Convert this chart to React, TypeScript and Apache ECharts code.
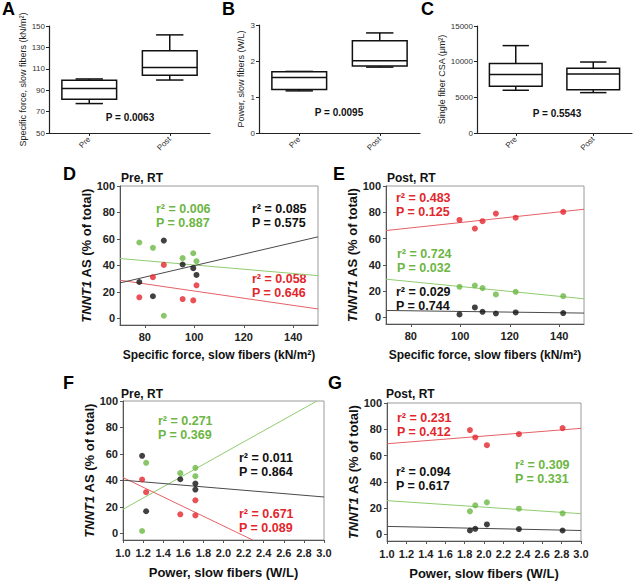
import { useEffect, useRef } from 'react';
import * as echarts from 'echarts';

// ---------- data ----------
const boxCategories = ['Pre', 'Post'];
// [min, Q1, median, Q3, max]
const forceBox = [
  [77.5, 81.6, 91.5, 99.2, 100.5],
  [99.5, 103.9, 111.3, 126.8, 141.7],
];
const powerBox = [
  [1.17, 1.21, 1.54, 1.7, 1.71],
  [1.83, 1.86, 2.01, 2.56, 2.78],
];
const csaBox = [
  [5990, 6550, 8190, 9730, 12250],
  [5660, 6080, 8270, 9070, 9950],
];
const boxPValues = ['P = 0.0063', 'P = 0.0095', 'P = 0.5543'];
const forceTicks = [50, 70, 90, 110, 130, 150];
const powerTicks = [0, 1, 2, 3];
const csaTicks = [0, 5000, 10000, 15000];

const pctTicks = [0, 20, 40, 60, 80, 100];
const forceScatterTicks = [80, 100, 120, 140];

// Panel D: Pre, specific force
const preForce = [77.8, 83.3, 87.7, 95.3, 99.6, 100.9];
const dGreen = [57.3, 53.3, 2, 45.5, 49.2, 43.2];
const dBlack = [27.5, 16.7, 58.8, 40.7, 37.9, 32.8];
const dRed = [15.9, 31.1, 40.4, 14.6, 13.6, 25];
const dGreenFit = [[70, 45.2], [150, 32.3]];
const dBlackFit = [[70, 26.8], [150, 61.6]];
const dRedFit = [[70, 28.8], [150, 7.1]];

// Panel E: Post, specific force
const postForce = [99.7, 105.9, 109, 114.4, 122.4, 141.6];
const eRed = [74.2, 67.6, 73.2, 79, 75.9, 80.3];
const eGreen = [23.3, 24.3, 22.3, 17.5, 19.5, 16.2];
const eBlack = [2.3, 7.6, 4.3, 3, 3.8, 3.3];
const eRedFit = [[70, 66.1], [150, 82.3]];
const eGreenFit = [[70, 29.1], [150, 14.2]];
const eBlackFit = [[70, 5.3], [150, 3.3]];

// Panel F: Pre, power
const prePower = [1.19, 1.23, 1.57, 1.72, 1.72];
const fGreen = [1.8, 53.3, 45.5, 49.5, 43.2];
const fBlack = [58.6, 16.7, 40.9, 37.6, 33.1];
const fRed = [40.7, 31.1, 14.4, 25, 13.6];
const fGreenFit = [[1.0, 18.2], [2.93, 100]];
const fBlackFit = [[1.0, 40.2], [3.0, 27.5]];
const fRedFit = [[1.0, 42.2], [2.29, -5]];

// Panel G: Post, power
const postPower = [1.855, 1.91, 2.03, 2.36, 2.81];
const gRed = [79.4, 73.8, 67.9, 76.3, 80.9];
const gGreen = [17.6, 22.1, 24.4, 19.6, 16];
const gBlack = [3, 4.3, 7.6, 4.1, 3];
const gRedFit = [[1.0, 69], [3.0, 80.7]];
const gGreenFit = [[1.0, 25.7], [3.0, 15.8]];
const gBlackFit = [[1.0, 6.1], [3.0, 3]];

// stats text: [r², P]
const dStats = { green: ['0.006', '0.887'], black: ['0.085', '0.575'], red: ['0.058', '0.646'] };
const eStats = { red: ['0.483', '0.125'], green: ['0.724', '0.032'], black: ['0.029', '0.744'] };
const fStats = { green: ['0.271', '0.369'], black: ['0.011', '0.864'], red: ['0.671', '0.089'] };
const gStats = { red: ['0.231', '0.412'], black: ['0.094', '0.617'], green: ['0.309', '0.331'] };

// ---------- style ----------
const FONT = '"Liberation Sans", Arial, Helvetica, sans-serif';
const RED = '#e3262d';
const GREEN = '#6cb644';
const BLACK = '#111111';
const RED_LINE = '#e46166';
const GREEN_LINE = '#90cc70';
const BLACK_LINE = '#4a4a4a';

const grids = [
  { left: 49, top: 26, width: 161, height: 107 },   // A
  { left: 259, top: 25, width: 161, height: 108 },  // B
  { left: 477, top: 26, width: 155, height: 107 },  // C
  { left: 120, top: 186, width: 198, height: 139 }, // D
  { left: 386, top: 186, width: 198, height: 138 }, // E
  { left: 123, top: 401, width: 201, height: 139 }, // F
  { left: 387, top: 403, width: 194, height: 138 }, // G
];

function catAxis(gi: number) {
  return {
    type: 'category', gridIndex: gi, data: boxCategories, boundaryGap: true,
    axisLine: { lineStyle: { color: '#222', width: 1.2 } },
    axisTick: { show: true, alignWithLabel: true, length: 3, lineStyle: { color: '#222' } },
    axisLabel: { rotate: 45, fontSize: 8, color: '#333', margin: 5, fontFamily: FONT },
    splitLine: { show: false },
  };
}

function boxYAxis(gi: number, min: number, max: number, values: number[], name: string, gap: number) {
  return {
    type: 'value', gridIndex: gi, min, max, name, nameLocation: 'middle', nameGap: gap,
    nameTextStyle: { fontSize: 9, color: '#222', fontFamily: FONT },
    axisLine: { show: true, lineStyle: { color: '#222', width: 1.2 } },
    axisTick: { show: true, length: 3, customValues: values, lineStyle: { color: '#222' } },
    axisLabel: {
      fontSize: 8, color: '#333', margin: 4, customValues: values, fontFamily: FONT,
      formatter: (v: number) => String(v),
    },
    splitLine: { show: false },
  };
}

function pctAxis(gi: number, gap: number) {
  return {
    type: 'value', gridIndex: gi, min: -5, max: 100,
    name: '{i|TNNT1} AS (% of total)', nameLocation: 'middle', nameGap: gap,
    nameTextStyle: {
      fontSize: 13, fontWeight: 'bold', color: '#111', fontFamily: FONT,
      rich: { i: { fontSize: 13, fontWeight: 'bold', fontStyle: 'italic', color: '#111', fontFamily: FONT } },
    },
    axisLine: { show: true, lineStyle: { color: '#555', width: 1 } },
    axisTick: { show: true, length: 3, customValues: pctTicks, lineStyle: { color: '#555' } },
    axisLabel: { fontSize: 11, fontWeight: 'bold', color: '#222', margin: 5, customValues: pctTicks, fontFamily: FONT },
    splitLine: { show: false },
  };
}

function forceXAxis(gi: number, gap: number) {
  return {
    type: 'value', gridIndex: gi, min: 70, max: 150,
    name: 'Specific force, slow fibers (kN/m²)', nameLocation: 'middle', nameGap: gap,
    nameTextStyle: { fontSize: 12, fontWeight: 'bold', color: '#111', fontFamily: FONT },
    axisLine: { show: true, onZero: false, lineStyle: { color: '#555', width: 1 } },
    axisTick: { show: true, length: 3, customValues: forceScatterTicks, lineStyle: { color: '#555' } },
    axisLabel: { fontSize: 11, fontWeight: 'bold', color: '#222', margin: 6, customValues: forceScatterTicks, fontFamily: FONT },
    splitLine: { show: false },
  };
}

function powerXAxis(gi: number, gap: number) {
  return {
    type: 'value', gridIndex: gi, min: 1, max: 3, interval: 0.2,
    name: 'Power, slow fibers (W/L)', nameLocation: 'middle', nameGap: gap,
    nameTextStyle: { fontSize: 13, fontWeight: 'bold', color: '#111', fontFamily: FONT },
    axisLine: { show: true, onZero: false, lineStyle: { color: '#555', width: 1 } },
    axisTick: { show: true, length: 3, lineStyle: { color: '#555' } },
    axisLabel: {
      fontSize: 11, fontWeight: 'bold', color: '#222', margin: 7, fontFamily: FONT,
      formatter: (v: number) => v.toFixed(1),
    },
    splitLine: { show: false },
  };
}

function boxSeries(gi: number, data: number[][]) {
  return {
    type: 'custom', xAxisIndex: gi, yAxisIndex: gi,
    data: data.map((d, i) => [i, ...d]),
    renderItem: (params: any, api: any) => {
      const i = api.value(0);
      const v = [1, 2, 3, 4, 5].map((k) => api.value(k));
      const band = api.size([1, 0])[0];
      const bw = band * 0.68;
      const cw = bw / 2;
      const cx = api.coord([i, v[0]])[0];
      const y = v.map((val: number) => api.coord([i, val])[1]);
      const st = { stroke: '#111', lineWidth: 1.5, fill: 'none' };
      return {
        type: 'group',
        children: [
          { type: 'line', shape: { x1: cx, y1: y[3], x2: cx, y2: y[4] }, style: st },
          { type: 'line', shape: { x1: cx, y1: y[1], x2: cx, y2: y[0] }, style: st },
          { type: 'line', shape: { x1: cx - cw / 2, y1: y[4], x2: cx + cw / 2, y2: y[4] }, style: st },
          { type: 'line', shape: { x1: cx - cw / 2, y1: y[0], x2: cx + cw / 2, y2: y[0] }, style: st },
          { type: 'rect', shape: { x: cx - bw / 2, y: y[3], width: bw, height: y[1] - y[3] }, style: { stroke: '#111', lineWidth: 1.5, fill: '#fff' } },
          { type: 'line', shape: { x1: cx - bw / 2, y1: y[2], x2: cx + bw / 2, y2: y[2] }, style: st },
        ],
      };
    },
  };
}

function zip(xs: number[], ys: number[]) {
  return xs.map((x, i) => [x, ys[i]]);
}

function scatterSet(gi: number, xs: number[], groups: { ys: number[]; fit: number[][]; color: string; line: string }[]) {
  const out: any[] = [];
  groups.forEach((g) => {
    out.push({
      type: 'line', xAxisIndex: gi, yAxisIndex: gi, data: g.fit, showSymbol: false, symbol: 'none',
      lineStyle: { color: g.line, width: 1 }, z: 2, silent: true,
    });
  });
  groups.forEach((g) => {
    out.push({
      type: 'scatter', xAxisIndex: gi, yAxisIndex: gi, data: zip(xs, g.ys), symbolSize: 6,
      itemStyle: { color: g.color }, z: 3,
    });
  });
  return out;
}

function txt(text: string, x: number, y: number, size: number, color = '#111', weight = 'bold', align = 'left') {
  return {
    type: 'text', x, y, silent: true,
    style: { text, fill: color, fontSize: size, fontWeight: weight, fontFamily: FONT, align, verticalAlign: 'middle' },
  };
}

function statText(s: string[], x: number, y: number, color: string) {
  return [txt('r² = ' + s[0], x, y, 12.5, color), txt('P = ' + s[1], x, y + 14, 12.5, color)];
}

function buildOption() {
  return {
    animation: false,
    backgroundColor: '#fff',
    grid: grids.map((g, i) => ({
      ...g, containLabel: false,
      show: i >= 3, borderColor: '#9a9a9a', borderWidth: 1, backgroundColor: 'transparent',
    })),
    xAxis: [
      catAxis(0), catAxis(1), catAxis(2),
      forceXAxis(3, 24), forceXAxis(4, 25), powerXAxis(5, 26), powerXAxis(6, 26),
    ],
    yAxis: [
      boxYAxis(0, 50, 150, forceTicks, 'Specific force, slow fibers (kN/m²)', 21),
      boxYAxis(1, 0, 3, powerTicks, 'Power, slow fibers (W/L)', 14),
      boxYAxis(2, 0, 15000, csaTicks, 'Single fiber CSA (μm²)', 28),
      pctAxis(3, 22), pctAxis(4, 23), pctAxis(5, 20), pctAxis(6, 23),
    ],
    series: [
      boxSeries(0, forceBox),
      boxSeries(1, powerBox),
      boxSeries(2, csaBox),
      ...scatterSet(3, preForce, [
        { ys: dGreen, fit: dGreenFit, color: GREEN, line: GREEN_LINE },
        { ys: dRed, fit: dRedFit, color: RED, line: RED_LINE },
        { ys: dBlack, fit: dBlackFit, color: BLACK, line: BLACK_LINE },
      ]),
      ...scatterSet(4, postForce, [
        { ys: eRed, fit: eRedFit, color: RED, line: RED_LINE },
        { ys: eGreen, fit: eGreenFit, color: GREEN, line: GREEN_LINE },
        { ys: eBlack, fit: eBlackFit, color: BLACK, line: BLACK_LINE },
      ]),
      ...scatterSet(5, prePower, [
        { ys: fGreen, fit: fGreenFit, color: GREEN, line: GREEN_LINE },
        { ys: fRed, fit: fRedFit, color: RED, line: RED_LINE },
        { ys: fBlack, fit: fBlackFit, color: BLACK, line: BLACK_LINE },
      ]),
      ...scatterSet(6, postPower, [
        { ys: gRed, fit: gRedFit, color: RED, line: RED_LINE },
        { ys: gGreen, fit: gGreenFit, color: GREEN, line: GREEN_LINE },
        { ys: gBlack, fit: gBlackFit, color: BLACK, line: BLACK_LINE },
      ]),
    ],
    graphic: [
      // panel letters
      txt('A', 2, 9, 18, '#000'),
      txt('B', 222, 9, 18, '#000'),
      txt('C', 421, 9, 18, '#000'),
      txt('D', 63, 174, 18, '#000'),
      txt('E', 333, 174, 18, '#000'),
      txt('F', 63, 383, 18, '#000'),
      txt('G', 328, 383, 18, '#000'),
      // box plot p-values
      txt(boxPValues[0], 130, 117, 10, '#111', 'bold', 'center'),
      txt(boxPValues[1], 339, 112, 10, '#111', 'bold', 'center'),
      txt(boxPValues[2], 557, 113, 10, '#111', 'bold', 'center'),
      // scatter titles
      txt('Pre, RT', 121, 178, 12),
      txt('Post, RT', 387, 178, 12),
      txt('Pre, RT', 121, 394, 12),
      txt('Post, RT', 386, 393.5, 12),
      // stats
      ...statText(dStats.green, 156, 208.5, GREEN),
      ...statText(dStats.black, 252, 208.5, BLACK),
      ...statText(dStats.red, 252, 278.5, RED),
      ...statText(eStats.red, 396, 197.5, RED),
      ...statText(eStats.green, 397, 254, GREEN),
      ...statText(eStats.black, 396, 291.5, BLACK),
      ...statText(fStats.green, 158, 421, GREEN),
      ...statText(fStats.black, 239, 458, BLACK),
      ...statText(fStats.red, 239, 513.5, RED),
      ...statText(gStats.red, 397, 418, RED),
      ...statText(gStats.black, 396, 472, BLACK),
      ...statText(gStats.green, 515, 465, GREEN),
    ],
  };
}

export default function App() {
  const ref = useRef<HTMLDivElement>(null);
  useEffect(() => {
    document.body.style.margin = '0';
    const chart = echarts.init(ref.current!, null, { renderer: 'svg' });
    chart.setOption(buildOption() as any);
    return () => chart.dispose();
  }, []);
  return <div ref={ref} style={{ width: 640, height: 582, background: '#fff' }} />;
}
